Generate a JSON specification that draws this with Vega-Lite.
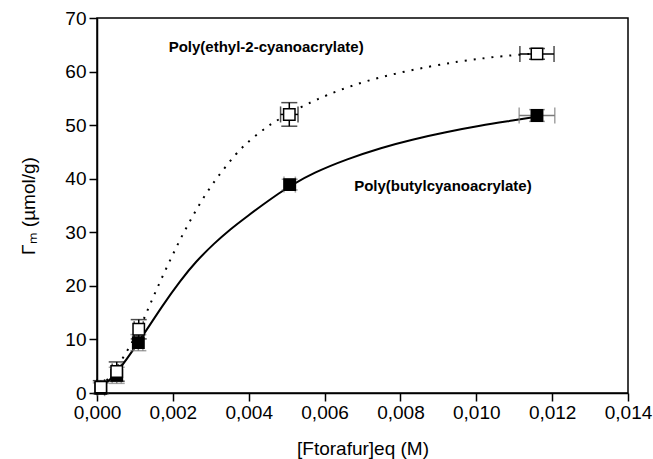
{
  "$schema": "https://vega.github.io/schema/vega-lite/v6.json",
  "width": 531,
  "height": 375,
  "autosize": "none",
  "padding": {"left": 97, "top": 18, "right": 25, "bottom": 66},
  "background": "white",
  "config": {
    "view": {"stroke": "black", "strokeWidth": 1.5},
    "font": "Liberation Sans",
    "axis": {
      "grid": false,
      "domainColor": "black",
      "domainWidth": 1.5,
      "tickColor": "black",
      "tickWidth": 1.5,
      "labelFont": "Liberation Sans",
      "labelFontSize": 19,
      "labelColor": "black",
      "titleFont": "Liberation Sans",
      "titleFontSize": 19,
      "titleFontWeight": "normal",
      "titleColor": "black"
    }
  },
  "datasets": {
    "points": [
      {"series": "butyl", "x": 0.0001, "y": 0.9, "xlo": 0.0, "xhi": 0.0002, "ylo": -0.1, "yhi": 1.9},
      {"series": "butyl", "x": 0.00052, "y": 3.3, "xlo": 0.0004, "xhi": 0.00064, "ylo": 1.8, "yhi": 4.8},
      {"series": "butyl", "x": 0.00109, "y": 9.4, "xlo": 0.00097, "xhi": 0.00121, "ylo": 7.9, "yhi": 10.9},
      {"series": "butyl", "x": 0.00508, "y": 38.9, "xlo": 0.00493, "xhi": 0.00523, "ylo": 37.9, "yhi": 39.9},
      {"series": "butyl", "x": 0.0116, "y": 51.8, "xlo": 0.01113, "xhi": 0.01207, "ylo": 50.7, "yhi": 52.9},
      {"series": "ethyl", "x": 0.0001, "y": 1.1, "xlo": 0.0, "xhi": 0.0002, "ylo": -0.1, "yhi": 2.3},
      {"series": "ethyl", "x": 0.00052, "y": 4.0, "xlo": 0.0004, "xhi": 0.00064, "ylo": 2.2, "yhi": 5.8},
      {"series": "ethyl", "x": 0.0011, "y": 11.9, "xlo": 0.00098, "xhi": 0.00122, "ylo": 10.1, "yhi": 13.7},
      {"series": "ethyl", "x": 0.00507, "y": 52.0, "xlo": 0.00484, "xhi": 0.0053, "ylo": 49.8, "yhi": 54.2},
      {"series": "ethyl", "x": 0.0116, "y": 63.3, "xlo": 0.01115, "xhi": 0.01205, "ylo": 62.3, "yhi": 64.3}
    ],
    "curves": [
      {"series": "butyl", "x": 0.0001, "y": 0.9},
      {"series": "butyl", "x": 0.00052, "y": 3.6},
      {"series": "butyl", "x": 0.00109, "y": 9.4},
      {"series": "butyl", "x": 0.00175, "y": 16.6},
      {"series": "butyl", "x": 0.0022, "y": 21.0},
      {"series": "butyl", "x": 0.0026, "y": 24.5},
      {"series": "butyl", "x": 0.0031, "y": 28.0},
      {"series": "butyl", "x": 0.0035, "y": 30.5},
      {"series": "butyl", "x": 0.004, "y": 33.2},
      {"series": "butyl", "x": 0.0044, "y": 35.3},
      {"series": "butyl", "x": 0.0048, "y": 37.3},
      {"series": "butyl", "x": 0.0051, "y": 38.7},
      {"series": "butyl", "x": 0.0057, "y": 41.1},
      {"series": "butyl", "x": 0.0066, "y": 43.7},
      {"series": "butyl", "x": 0.0075, "y": 45.8},
      {"series": "butyl", "x": 0.0083, "y": 47.3},
      {"series": "butyl", "x": 0.0092, "y": 48.7},
      {"series": "butyl", "x": 0.0101, "y": 49.9},
      {"series": "butyl", "x": 0.011, "y": 50.9},
      {"series": "butyl", "x": 0.0116, "y": 51.6},
      {"series": "ethyl", "x": 0.0001, "y": 1.1},
      {"series": "ethyl", "x": 0.00052, "y": 4.4},
      {"series": "ethyl", "x": 0.0011, "y": 11.6},
      {"series": "ethyl", "x": 0.00127, "y": 14.4},
      {"series": "ethyl", "x": 0.00145, "y": 17.4},
      {"series": "ethyl", "x": 0.00164, "y": 20.4},
      {"series": "ethyl", "x": 0.00184, "y": 23.5},
      {"series": "ethyl", "x": 0.00205, "y": 26.6},
      {"series": "ethyl", "x": 0.00226, "y": 29.6},
      {"series": "ethyl", "x": 0.00249, "y": 32.6},
      {"series": "ethyl", "x": 0.00273, "y": 35.6},
      {"series": "ethyl", "x": 0.00302, "y": 38.8},
      {"series": "ethyl", "x": 0.00333, "y": 41.7},
      {"series": "ethyl", "x": 0.00368, "y": 44.8},
      {"series": "ethyl", "x": 0.0039, "y": 46.3},
      {"series": "ethyl", "x": 0.00412, "y": 47.7},
      {"series": "ethyl", "x": 0.00443, "y": 49.4},
      {"series": "ethyl", "x": 0.00465, "y": 50.5},
      {"series": "ethyl", "x": 0.00507, "y": 52.2},
      {"series": "ethyl", "x": 0.0057, "y": 54.6},
      {"series": "ethyl", "x": 0.007, "y": 58.3},
      {"series": "ethyl", "x": 0.0088, "y": 61.1},
      {"series": "ethyl", "x": 0.0103, "y": 62.7},
      {"series": "ethyl", "x": 0.0116, "y": 63.4}
    ],
    "labels": [
      {"text": "Poly(ethyl-2-cyanoacrylate)", "x": 0.00446, "y": 64.5},
      {"text": "Poly(butylcyanoacrylate)", "x": 0.00912, "y": 38.7}
    ]
  },
  "layer": [
    {
      "data": {"name": "curves"},
      "transform": [{"filter": "datum.series === 'butyl'"}],
      "mark": {"type": "line", "color": "black", "strokeWidth": 2, "interpolate": "basis"},
      "encoding": {
        "x": {
          "field": "x", "type": "quantitative", "title": "[Ftorafur]eq (M)",
          "scale": {"domain": [0, 0.014], "nice": false, "zero": false},
          "axis": {
            "values": [0, 0.001, 0.002, 0.003, 0.004, 0.005, 0.006, 0.007, 0.008, 0.009, 0.01, 0.011, 0.012, 0.013, 0.014],
            "labelExpr": "round(datum.value*1000) % 2 === 0 ? replace(format(datum.value, '.3f'), '.', ',') : ''",
            "tickSize": {"condition": {"test": "round(datum.value*1000) % 2 === 0", "value": 8}, "value": 5},
            "labelPadding": 2,
            "titlePadding": 17,
            "labelFlush": false
          }
        },
        "y": {
          "field": "y", "type": "quantitative", "title": "Γₘ (µmol/g)",
          "scale": {"domain": [0, 70], "nice": false, "zero": false},
          "axis": {
            "values": [0, 5, 10, 15, 20, 25, 30, 35, 40, 45, 50, 55, 60, 65, 70],
            "labelExpr": "datum.value % 10 === 0 ? datum.label : ''",
            "tickSize": {"condition": {"test": "datum.value % 10 === 0", "value": 8}, "value": 5},
            "labelPadding": 3,
            "titlePadding": 26,
            "labelFlush": false
          }
        }
      }
    },
    {
      "data": {"name": "curves"},
      "transform": [{"filter": "datum.series === 'ethyl'"}],
      "mark": {"type": "line", "color": "black", "strokeWidth": 2, "strokeDash": [2, 7], "interpolate": "basis"},
      "encoding": {
        "x": {"field": "x", "type": "quantitative", "title": "[Ftorafur]eq (M)"},
        "y": {"field": "y", "type": "quantitative", "title": "Γₘ (µmol/g)"}
      }
    },
    {
      "data": {"name": "points"},
      "mark": {"type": "errorbar", "ticks": {"size": 16, "thickness": 1.5}, "thickness": 1.5},
      "encoding": {
        "x": {"field": "xlo", "type": "quantitative", "title": "[Ftorafur]eq (M)"},
        "x2": {"field": "xhi"},
        "y": {"field": "y", "type": "quantitative", "title": "Γₘ (µmol/g)"},
        "color": {"field": "series", "type": "nominal", "scale": {"domain": ["butyl", "ethyl"], "range": ["#7a7a7a", "#000000"]}, "legend": null}
      }
    },
    {
      "data": {"name": "points"},
      "mark": {"type": "errorbar", "ticks": {"size": 16, "thickness": 1.5}, "thickness": 1.5},
      "encoding": {
        "y": {"field": "ylo", "type": "quantitative", "title": "Γₘ (µmol/g)"},
        "y2": {"field": "yhi"},
        "x": {"field": "x", "type": "quantitative", "title": "[Ftorafur]eq (M)"},
        "color": {"field": "series", "type": "nominal", "scale": {"domain": ["butyl", "ethyl"], "range": ["#7a7a7a", "#000000"]}, "legend": null}
      }
    },
    {
      "data": {"name": "points"},
      "mark": {"type": "square", "size": 130, "strokeWidth": 1.5, "stroke": "black", "opacity": 1, "filled": true},
      "encoding": {
        "x": {"field": "x", "type": "quantitative", "title": "[Ftorafur]eq (M)"},
        "y": {"field": "y", "type": "quantitative", "title": "Γₘ (µmol/g)"},
        "fill": {"field": "series", "type": "nominal", "scale": {"domain": ["butyl", "ethyl"], "range": ["#000000", "#ffffff"]}, "legend": null}
      }
    },
    {
      "data": {"name": "labels"},
      "mark": {"type": "text", "font": "Liberation Sans", "fontWeight": "bold", "fontSize": 15, "color": "black", "align": "center", "baseline": "middle"},
      "encoding": {
        "x": {"field": "x", "type": "quantitative", "title": "[Ftorafur]eq (M)"},
        "y": {"field": "y", "type": "quantitative", "title": "Γₘ (µmol/g)"},
        "text": {"field": "text"}
      }
    }
  ]
}
